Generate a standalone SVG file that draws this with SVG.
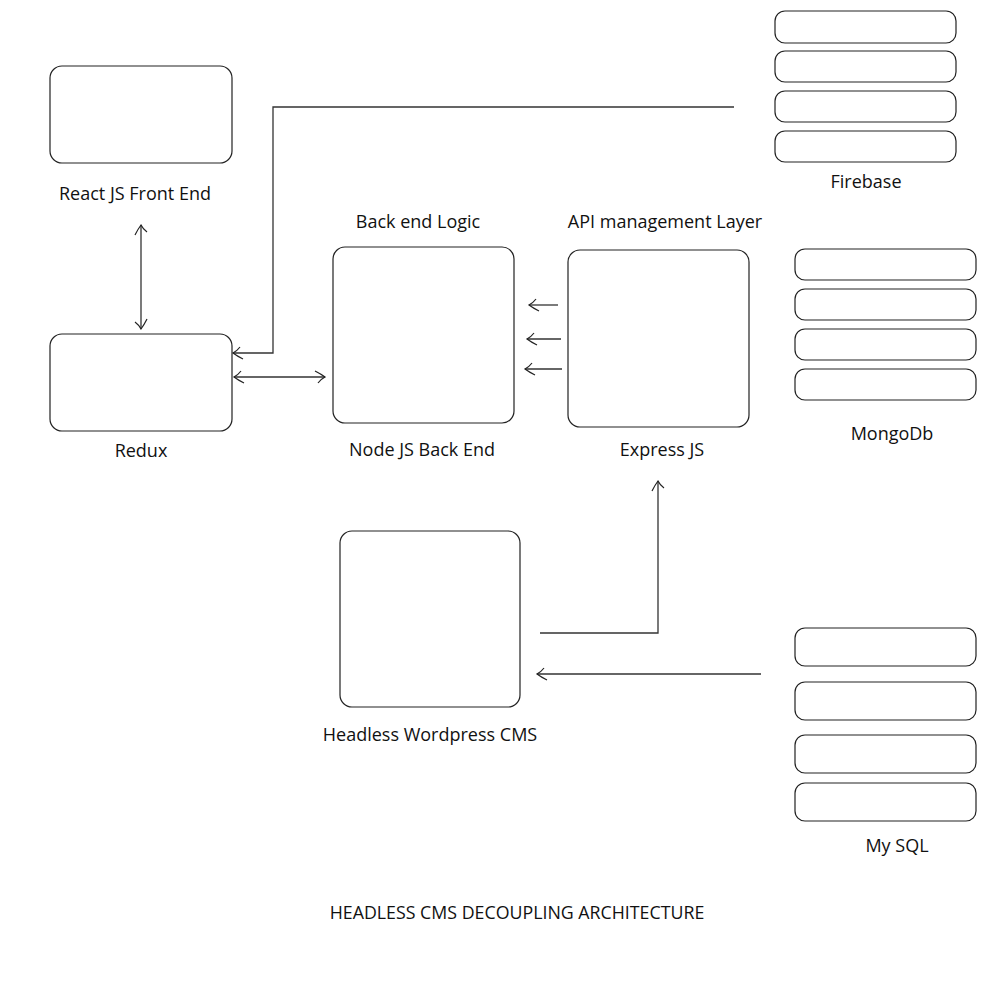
<svg xmlns="http://www.w3.org/2000/svg" width="1000" height="1000" viewBox="0 0 1000 1000">
<style>
.box{fill:#fff;stroke:#222;stroke-width:1.2}
.bar{fill:#fff;stroke:#222;stroke-width:1.2}
.lbl{font-family:"Open Sans","Liberation Sans",sans-serif;font-size:18px;fill:#111;text-anchor:middle}
.title{font-family:"Open Sans","Liberation Sans",sans-serif;font-size:17.8px;fill:#111;text-anchor:middle}
.c{fill:none;stroke:#333;stroke-width:1.3}
</style>
<defs>
<marker id="ah" viewBox="0 0 12 14" refX="11" refY="7" markerWidth="12" markerHeight="14" markerUnits="userSpaceOnUse" orient="auto-start-reverse">
<path d="M1,1 Q7,4 11,7 Q7,9 4,13" fill="none" stroke="#222" stroke-width="1.2"/>
</marker>
</defs>
<rect width="1000" height="1000" fill="#fff"/>
<g id="react"><rect class="box" x="50" y="66" width="182" height="97" rx="12"/><text class="lbl" x="135" y="200">React JS Front End</text></g>
<g id="redux"><rect class="box" x="50" y="334" width="182" height="97" rx="12"/><text class="lbl" x="141" y="457">Redux</text></g>
<g id="node"><rect class="box" x="333" y="247" width="181" height="176" rx="12"/><text class="lbl" x="418" y="228">Back end Logic</text><text class="lbl" x="422" y="456">Node JS Back End</text></g>
<g id="express"><rect class="box" x="568" y="250" width="181" height="177" rx="12"/><text class="lbl" x="665" y="228">API management Layer</text><text class="lbl" x="662" y="456">Express JS</text></g>
<g id="headless"><rect class="box" x="340" y="531" width="180" height="176" rx="12"/><text class="lbl" x="430" y="741">Headless Wordpress CMS</text></g>
<g id="firebase">
<rect class="bar" x="775" y="11" width="181" height="32" rx="10"/>
<rect class="bar" x="775" y="51" width="181" height="31" rx="10"/>
<rect class="bar" x="775" y="91" width="181" height="31" rx="10"/>
<rect class="bar" x="775" y="131" width="181" height="31" rx="10"/>
<text class="lbl" x="866" y="188">Firebase</text></g>
<g id="mongodb">
<rect class="bar" x="795" y="249" width="181" height="31" rx="10"/>
<rect class="bar" x="795" y="289" width="181" height="31" rx="10"/>
<rect class="bar" x="795" y="329" width="181" height="31" rx="10"/>
<rect class="bar" x="795" y="369" width="181" height="31" rx="10"/>
<text class="lbl" x="892" y="440">MongoDb</text></g>
<g id="mysql">
<rect class="bar" x="795" y="628" width="181" height="38" rx="10"/>
<rect class="bar" x="795" y="682" width="181" height="38" rx="10"/>
<rect class="bar" x="795" y="735" width="181" height="38" rx="10"/>
<rect class="bar" x="795" y="783" width="181" height="38" rx="10"/>
<text class="lbl" x="897" y="852">My SQL</text></g>
<g id="connectors">
<line class="c" x1="141" y1="225" x2="141" y2="329" marker-start="url(#ah)" marker-end="url(#ah)"/>
<polyline class="c" points="734,107 273,107 273,353 233,353" marker-end="url(#ah)"/>
<line class="c" x1="234" y1="377" x2="325" y2="377" marker-start="url(#ah)" marker-end="url(#ah)"/>
<line class="c" x1="558" y1="305" x2="529" y2="305" marker-end="url(#ah)"/>
<line class="c" x1="561" y1="339" x2="527" y2="339" marker-end="url(#ah)"/>
<line class="c" x1="562" y1="369" x2="525" y2="369" marker-end="url(#ah)"/>
<polyline class="c" points="540,633 658,633 658,481" marker-end="url(#ah)"/>
<line class="c" x1="761" y1="674" x2="537" y2="674" marker-end="url(#ah)"/>
</g>
<text class="title" x="517" y="919">HEADLESS CMS DECOUPLING ARCHITECTURE</text>
</svg>
